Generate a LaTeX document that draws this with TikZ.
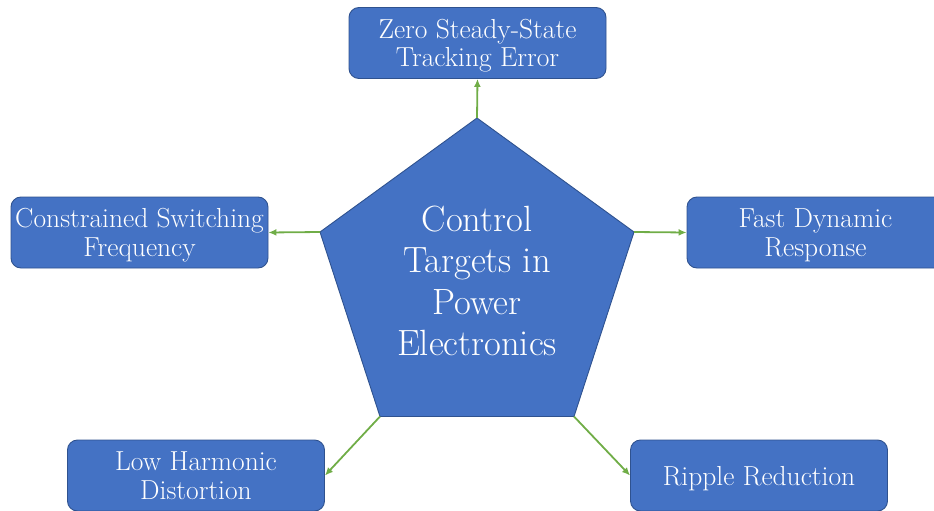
\documentclass[tikz,border=0pt]{standalone}
\usetikzlibrary{arrows.meta}
\definecolor{boxblue}{HTML}{4472C4}
\definecolor{edgeblue}{HTML}{2F528F}
\definecolor{linkgreen}{HTML}{70AD47}
\tikzset{
  target/.style={draw=edgeblue, line width=0.9pt, fill=boxblue, rounded corners=10pt,
    minimum width=257pt, minimum height=71pt, inner sep=0pt, text=white, align=center,
    text depth=0pt, font=\fontsize{27.5}{28.5}\selectfont},
  link/.style={draw=linkgreen, line width=1.8pt, -{Latex[length=8pt,width=7pt]}},
}
\begin{document}
\begin{tikzpicture}[x=1pt,y=-1pt]
\useasboundingbox (0,0) rectangle (934,511);
% central pentagon
\coordinate (p1) at (477,118);
\coordinate (p2) at (634,232);
\coordinate (p3) at (574,416.5);
\coordinate (p4) at (380,416.5);
\coordinate (p5) at (320,232);
\draw[draw=edgeblue, line width=0.9pt, fill=boxblue, line join=miter] (p1) -- (p2) -- (p3) -- (p4) -- (p5) -- cycle;
\node[text=white, align=center, font=\fontsize{36.5}{41.5}\selectfont] (core) at (477,281)
  {Control\\Targets in\\Power\\Electronics};
% surrounding targets
\node[target] (zero)   at (477.5,43)   {Zero Steady-State\\Tracking Error};
\node[target] (switch) at (139.5,232.5) {Constrained Switching\\Frequency};
\node[target] (fast)   at (815.5,232.5) {Fast Dynamic\\Response};
\node[target] (harm)   at (196,475.5)  {Low Harmonic\\Distortion};
\node[target] (ripple) at (759,475.5)  {Ripple Reduction};
% connectors
\draw[link] (p1) -- (zero.south);
\draw[link] (p5) -- (switch.east);
\draw[link] (p2) -- (fast.west);
\draw[link] (p4) -- (harm.east);
\draw[link] (p3) -- (ripple.west);
\end{tikzpicture}
\end{document}
